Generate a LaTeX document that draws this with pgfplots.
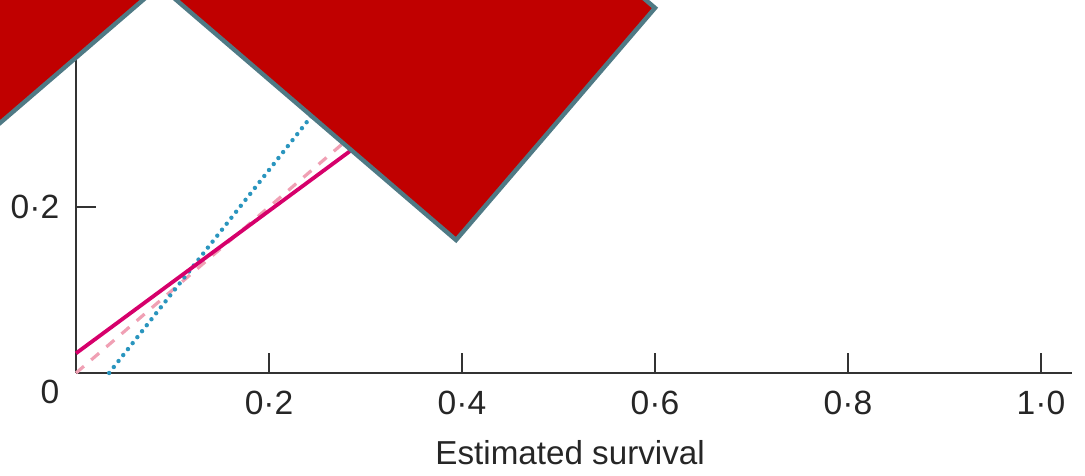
\documentclass[border=0pt]{standalone}
\usepackage{fontspec}
\setmainfont{Liberation Sans}
\usepackage{pgfplots}
\pgfplotsset{compat=1.18}
\definecolor{solidc}{HTML}{D6006B}
\definecolor{dashc}{HTML}{F0A0B4}
\definecolor{dotc}{HTML}{2A95BE}
\definecolor{redfill}{HTML}{C00000}
\definecolor{edgec}{HTML}{4F7A85}
\definecolor{axisc}{HTML}{333333}
\begin{document}
\begin{tikzpicture}
\begin{axis}[
x=241.25bp, y=207.5bp,
xmin=0, xmax=1.032, ymin=0, ymax=0.45,
axis lines=left,
axis line style={-, axisc, line width=0.55bp},
tick style={axisc, line width=0.55bp},
tick align=inside,
major tick length=5bp,
xtick={0.2,0.4,0.6,0.8,1.0},
xticklabels={0·2,0·4,0·6,0·8,1·0},
ytick={0.2,0.4},
yticklabels={0·2,0·4},
ticklabel style={font=\fontsize{8.4bp}{10bp}\selectfont, text=black!85},
xticklabel style={anchor=north, inner sep=0pt, yshift=-4.25bp},
yticklabel style={anchor=east, inner sep=0pt, xshift=-4bp},
clip=false,
]
% diagonal, fitted lines
\addplot[dashc, line width=0.8bp, dash pattern=on 2.6bp off 2.4bp] coordinates {(0,0) (0.6,0.6)};
\addplot[dotc, line width=1.1bp, line cap=round, dash pattern=on 0bp off 1.9bp] coordinates {(0.0343,0) (0.4,0.5398)};
\addplot[solidc, line width=0.95bp] coordinates {(0,0.0237) (0.6,0.5385)};
% red patches over the plot
\addplot[fill=redfill, draw=edgec, line width=1.1bp, line join=miter] coordinates {(0.3938,0.1602) (0.6000,0.4398) (0.2394,0.7994) (0.0332,0.5199)} --cycle;
\addplot[fill=redfill, draw=edgec, line width=1.1bp, line join=miter] coordinates {(-0.1306,0.2494) (0.1212,0.5012) (-0.0699,0.7596) (-0.3218,0.5078)} --cycle;
\node[anchor=east, inner sep=0pt, font=\fontsize{8.4bp}{10bp}\selectfont, text=black!85, xshift=-4bp, yshift=-4.75bp] at (axis cs:0,0) {0};
\node[anchor=base, inner sep=0pt, font=\fontsize{8.3bp}{10bp}\selectfont, text=black!85, yshift=-23bp] at (axis cs:0.512,0) {Estimated survival};
\coordinate (bl) at (axis cs:-0.0788,-0.1241);
\coordinate (tr) at (axis cs:1.0456,0.4494);
\end{axis}
\pgfresetboundingbox
\path[use as bounding box] (bl) rectangle (tr);
\end{tikzpicture}
\end{document}
